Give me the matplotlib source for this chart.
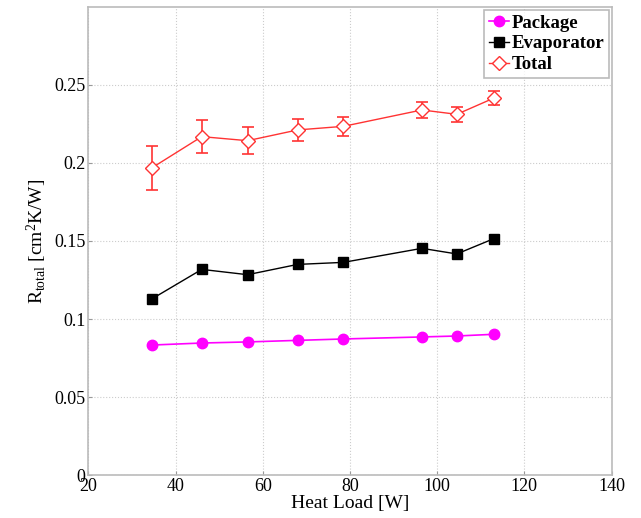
import matplotlib
matplotlib.use('Agg')
import matplotlib.pyplot as plt
from matplotlib.lines import Line2D

plt.rcParams['font.family'] = 'Liberation Serif'
plt.rcParams['mathtext.fontset'] = 'custom'
plt.rcParams['mathtext.rm'] = 'Liberation Serif'
plt.rcParams['mathtext.it'] = 'Liberation Serif:italic'
plt.rcParams['mathtext.bf'] = 'Liberation Serif:bold'

heat_load = [34.5, 46, 56.5, 68, 78.5, 96.5, 104.5, 113]
package = [0.0833, 0.0846, 0.0853, 0.0863, 0.0872, 0.0885, 0.0891, 0.0902]
evaporator = [0.1128, 0.1318, 0.1284, 0.1350, 0.1363, 0.1453, 0.1417, 0.1515]
total = [0.1968, 0.2169, 0.2143, 0.2212, 0.2235, 0.2340, 0.2312, 0.2416]
total_err = [0.0140, 0.0105, 0.0088, 0.0070, 0.0060, 0.0050, 0.0048, 0.0045]

red = '#ff3333'

fig = plt.figure(figsize=(6.41, 5.18), dpi=100)
ax = fig.add_axes([0.138, 0.083, 0.816, 0.9035])

ax.plot(heat_load, package, '-o', color='#ff00ff', ms=7.5, lw=1.2)
ax.plot(heat_load, evaporator, '-s', color='black', ms=6.5, lw=1.0)
ax.errorbar(heat_load, total, yerr=total_err, fmt='-D', color=red, mfc='white',
            mec=red, ms=7, lw=1.0, capsize=4, elinewidth=1.2, capthick=1.2)

ax.set_xlim(20, 140)
ax.set_ylim(0, 0.3)
ax.set_xticks(range(20, 141, 20))
ax.set_yticks([0, 0.05, 0.1, 0.15, 0.2, 0.25])
ax.set_yticklabels(['0', '0.05', '0.1', '0.15', '0.2', '0.25'])
ax.grid(True, ls=':', color='#cccccc', lw=0.8)
ax.tick_params(labelsize=13, length=3, color='#999999', direction='in', pad=2)
for s in ax.spines.values():
    s.set_color('#bbbbbb')
    s.set_linewidth(1.2)

ax.set_xlabel('Heat Load [W]', fontsize=14, labelpad=0)
ax.set_ylabel(r'R$_{\mathrm{total}}$ [cm$^{2}$K/W]', fontsize=14, labelpad=4)

handles = [
    Line2D([], [], marker='o', color='#ff00ff', ms=7.5, lw=1.2),
    Line2D([], [], marker='s', color='black', ms=6.5, lw=1.0),
    Line2D([], [], marker='D', color=red, mfc='white', ms=7, lw=1.0),
]
leg = ax.legend(handles, ['Package', 'Evaporator', 'Total'], loc='upper right',
                borderaxespad=0.15, handlelength=1.1, handletextpad=0.1,
                borderpad=0.25, labelspacing=0.2,
                prop={'size': 13.5, 'weight': 'bold'}, fancybox=False)
leg.get_frame().set_edgecolor('#aaaaaa')
leg.get_frame().set_linewidth(1.2)

fig.savefig('out.png', dpi=100)
